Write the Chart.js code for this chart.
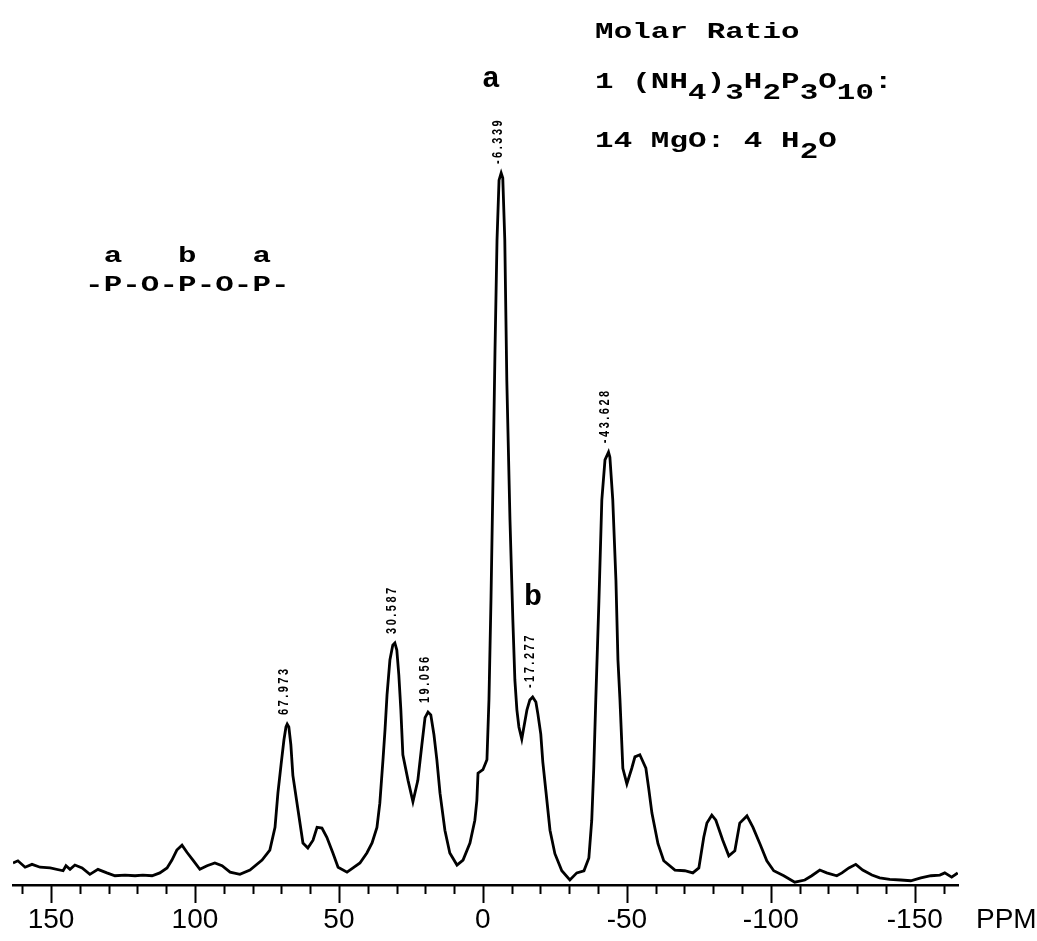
<!DOCTYPE html>
<html>
<head>
<meta charset="utf-8">
<script src="https://cdn.jsdelivr.net/npm/chart.js@4.4.0/dist/chart.umd.min.js"></script>
<style>
  html, body { margin: 0; padding: 0; background: #fff; }
  canvas { display: block; }
</style>
</head>
<body>
<canvas id="spectrum" width="1037" height="941"></canvas>
<script>
// chemical shift (ppm), high field to the right
const shifts = [
  163.2, 161.5, 159.0, 156.6, 153.8, 150.3, 145.8, 144.8, 143.4, 141.7,
  139.2, 136.5, 133.7, 130.6, 127.8, 124.3, 120.8, 118.1, 114.9, 112.2,
  109.7, 108.0, 106.3, 104.5, 102.8, 100.7, 98.3, 95.8, 93.1, 90.6,
  87.8, 84.4, 80.9, 76.7, 74.0, 72.2, 71.2, 70.1, 69.1, 68.4,
  67.973, 67.4, 66.7, 66.0, 64.2, 62.5, 60.8, 59.0, 57.6, 55.9,
  54.2, 52.1, 50.3, 47.2, 45.1, 42.7, 40.3, 38.5, 36.8, 35.8,
  34.7, 34.0, 33.3, 32.3, 31.3, 30.587, 29.9, 29.2, 28.5, 27.8,
  26.0, 24.3, 22.6, 21.2, 20.1, 19.056, 18.1, 17.0, 16.0, 14.9,
  13.2, 11.5, 9.0, 6.9, 4.5, 2.8, 2.1, 1.7, 0.0, -0.7,
  -1.4, -2.1, -2.8, -3.5, -4.2, -4.9, -5.6, -6.339, -6.9, -7.6,
  -8.3, -9.4, -10.4, -11.1, -11.8, -12.5, -13.5, -15.3, -16.3, -17.277,
  -18.4, -19.1, -20.1, -20.8, -21.9, -23.3, -25.0, -27.4, -30.2, -32.6,
  -35.1, -36.8, -37.8, -38.5, -39.2, -40.3, -41.3, -42.4, -43.628, -44.1,
  -45.1, -46.2, -46.9, -47.6, -48.6, -50.0, -51.7, -52.8, -54.5, -56.6,
  -57.6, -58.7, -60.8, -62.8, -66.7, -70.1, -72.9, -75.0, -76.7, -77.8,
  -79.5, -80.9, -83.3, -85.4, -87.5, -89.2, -91.7, -93.8, -96.2, -98.6,
  -101.0, -104.5, -108.3, -111.8, -114.2, -117.0, -119.4, -122.9, -124.7, -127.1,
  -129.5, -131.9, -135.1, -137.8, -141.3, -145.1, -148.6, -152.1, -155.6, -158.7,
  -160.4, -162.8, -164.9
];

// signal intensity, tallest peak = 100
const intensity = [
  3.1, 3.4, 2.5, 2.9, 2.5, 2.4, 2.0, 2.7, 2.2, 2.8,
  2.4, 1.5, 2.2, 1.7, 1.3, 1.4, 1.3, 1.4, 1.3, 1.7,
  2.4, 3.5, 4.9, 5.6, 4.6, 3.5, 2.2, 2.7, 3.1, 2.7,
  1.8, 1.5, 2.1, 3.5, 4.9, 8.1, 12.9, 16.9, 20.4, 22.2,
  22.6, 22.2, 19.7, 15.4, 10.5, 5.9, 5.2, 6.3, 8.1, 8.0,
  6.7, 4.5, 2.5, 1.8, 2.4, 3.1, 4.5, 5.9, 8.1, 11.5,
  17.6, 21.8, 26.7, 31.6, 33.7, 34.0, 33.0, 29.5, 24.6, 18.3,
  14.7, 11.7, 14.7, 19.7, 23.5, 24.3, 23.9, 21.1, 17.6, 12.9,
  7.7, 4.5, 2.8, 3.5, 5.9, 9.1, 11.9, 15.7, 16.2, 16.9,
  17.6, 26.0, 40.0, 56.9, 75.1, 90.6, 99.0, 100.0, 99.3, 90.6,
  70.9, 51.3, 37.2, 28.8, 24.6, 22.2, 20.5, 24.6, 26.0, 26.4,
  25.7, 24.0, 21.2, 17.3, 13.1, 7.7, 4.4, 2.0, 0.7, 1.7,
  2.0, 3.8, 9.1, 16.4, 26.0, 40.0, 54.1, 59.7, 60.8, 60.1,
  54.1, 42.8, 31.6, 26.0, 16.4, 14.2, 16.4, 18.0, 18.3, 16.4,
  13.5, 10.1, 5.8, 3.4, 2.1, 2.0, 1.7, 2.4, 6.7, 8.7,
  9.8, 9.1, 6.3, 4.1, 4.8, 8.7, 9.7, 8.1, 5.8, 3.4,
  2.0, 1.3, 0.4, 0.7, 1.3, 2.1, 1.7, 1.3, 1.7, 2.4,
  2.9, 2.1, 1.4, 1.0, 0.8, 0.7, 0.6, 1.0, 1.3, 1.4,
  1.7, 1.1, 1.7
];

// picked peak positions, printed above each maximum
const peakShifts = [67.973, 30.587, 19.056, -6.339, -17.277, -43.628];

// axis ticks: every 10 ppm, numbered every 50
const tickValues = [160, 150, 140, 130, 120, 110, 100, 90, 80, 70, 60, 50, 40, 30, 20, 10, 0,
  -10, -20, -30, -40, -50, -60, -70, -80, -90, -100, -110, -120, -130, -140, -150, -160];
const majorTicks = [150, 100, 50, 0, -50, -100, -150];

// typed annotations; [ 'x' ] marks a subscript
const ratioLines = [
  ['Molar Ratio'],
  ['1 (NH', ['4'], ')', ['3'], 'H', ['2'], 'P', ['3'], 'O', ['10'], ':'],
  ['14 MgO: 4 H', ['2'], 'O']
];
const chainLines = [
  [' a   b   a'],
  ['-P-O-P-O-P-']
];

const MONO = '"Liberation Mono", "DejaVu Sans Mono", monospace';

// typewriter style: fixed pitch, glyphs stretched sideways
function typeLine(ctx, parts, x0, base, pitch, drop) {
  let col = 0;
  parts.forEach(part => {
    const sub = Array.isArray(part);
    const txt = sub ? part[0] : part;
    for (const ch of txt) {
      ctx.save();
      ctx.translate(x0 + (col + 0.5) * pitch, base + (sub ? drop : 0));
      ctx.scale(1.4, 1);
      ctx.fillText(ch, 0, 0);
      ctx.restore();
      col++;
    }
  });
}

const decor = {
  id: 'decor',
  afterDraw(chart) {
    const {ctx} = chart;
    const x = chart.scales.x;
    const y = chart.scales.y;
    ctx.save();
    ctx.fillStyle = '#000';
    ctx.strokeStyle = '#000';

    // tick marks below the axis
    ctx.lineWidth = 2;
    x.ticks.forEach(t => {
      const px = Math.round(x.getPixelForValue(t.value)) + 0.5;
      const len = majorTicks.includes(t.value) ? 18 : 9;
      ctx.beginPath();
      ctx.moveTo(px, x.top);
      ctx.lineTo(px, x.top + len);
      ctx.stroke();
    });

    // unit at the end of the scale
    const item = x.getLabelItems()[0];
    ctx.font = '28px "Liberation Sans", Arial, sans-serif';
    ctx.textAlign = 'left';
    ctx.textBaseline = item.options.textBaseline;
    ctx.fillText('PPM', 976, item.options.translation[1] + item.textOffset);

    // peak positions, reading upward
    ctx.font = 'bold 11px "Liberation Sans", Arial, sans-serif';
    ctx.letterSpacing = '2.5px';
    ctx.textAlign = 'left';
    ctx.textBaseline = 'middle';
    peakShifts.forEach(v => {
      const i = shifts.indexOf(v);
      const px = x.getPixelForValue(v) - 3;
      const py = y.getPixelForValue(intensity[i]) - 9;
      ctx.save();
      ctx.translate(px, py);
      ctx.rotate(-Math.PI / 2);
      ctx.scale(1, 1.3);
      ctx.fillText(v.toFixed(3), 0, 0);
      ctx.restore();
    });
    ctx.letterSpacing = '0px';

    // composition and P-O-P chain
    ctx.font = 'bold 22px ' + MONO;
    ctx.textAlign = 'center';
    ctx.textBaseline = 'alphabetic';
    const lineBase = [38, 88, 147];
    ratioLines.forEach((parts, k) => typeLine(ctx, parts, 595, lineBase[k], 18.6, 11));
    typeLine(ctx, chainLines[0], 85, 262, 18.6, 0);
    typeLine(ctx, chainLines[1], 85, 291, 18.6, 0);

    // site labels over the end and middle phosphorus peaks
    ctx.font = 'bold 30px ' + MONO;
    ctx.fillText('a', 491, 87);
    ctx.fillText('b', 533, 605);

    ctx.restore();
  }
};

new Chart(document.getElementById('spectrum'), {
  type: 'line',
  data: {
    datasets: [{
      data: shifts.map((s, i) => ({x: s, y: intensity[i]})),
      borderColor: '#000',
      borderWidth: 2.8,
      pointRadius: 0,
      tension: 0,
      fill: false
    }]
  },
  options: {
    responsive: false,
    devicePixelRatio: 1,
    animation: false,
    layout: {padding: {top: 20, left: 13, right: 79, bottom: 0}},
    plugins: {legend: {display: false}, tooltip: {enabled: false}},
    scales: {
      x: {
        type: 'linear',
        reverse: true,
        min: -165,
        max: 163.2,
        afterBuildTicks: scale => { scale.ticks = tickValues.map(v => ({value: v})); },
        afterFit: scale => { scale.height = 56; },
        grid: {display: false, drawTicks: true, tickLength: 18},
        border: {display: true, color: '#000', width: 2.5},
        ticks: {
          autoSkip: false,
          maxRotation: 0,
          padding: 0,
          color: '#000',
          font: {family: '"Liberation Sans", Arial, sans-serif', size: 28},
          callback: v => majorTicks.includes(v) ? String(v) : ''
        }
      },
      y: {display: false, min: 0, max: 121.5}
    }
  },
  plugins: [decor]
});
</script>
</body>
</html>
